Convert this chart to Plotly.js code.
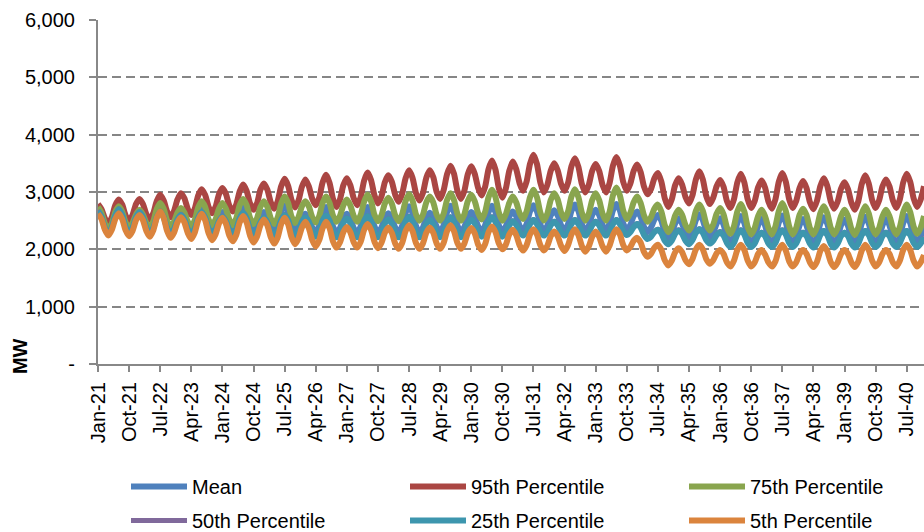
<!DOCTYPE html>
<html>
<head>
<meta charset="utf-8">
<script src="https://cdn.plot.ly/plotly-3.0.1.min.js"></script>
<style>
  html, body { margin: 0; padding: 0; background: #fff; }
  #chart { width: 924px; height: 532px; }
</style>
</head>
<body>
<div id="chart"></div>
<script>
// ---- Data (MW, monthly Jan-21 .. Dec-40) ----
const MONTHS = ['Jan','Feb','Mar','Apr','May','Jun','Jul','Aug','Sep','Oct','Nov','Dec'];
const YEARS = ['21','22','23','24','25','26','27','28','29','30','31','32','33','34','35','36','37','38','39','40'];

const TICK_LABELS = ['Jan-21','Oct-21','Jul-22','Apr-23','Jan-24','Oct-24','Jul-25','Apr-26','Jan-27','Oct-27',
  'Jul-28','Apr-29','Jan-30','Oct-30','Jul-31','Apr-32','Jan-33','Oct-33','Jul-34','Apr-35','Jan-36','Oct-36',
  'Jul-37','Apr-38','Jan-39','Oct-39','Jul-40'];

const Y_TICKS = [0, 1000, 2000, 3000, 4000, 5000, 6000];
const Y_TICK_TEXT = ['-', '1,000', '2,000', '3,000', '4,000', '5,000', '6,000'];

const SERIES_NAMES = ['Mean', '95th Percentile', '75th Percentile', '50th Percentile', '25th Percentile', '5th Percentile'];

const mean = [
  2700,2600,2400,2300,2400,2590,2690,2600,2400,2310,2400,2570,
  2660,2580,2410,2320,2420,2620,2720,2620,2430,2330,2410,2560,
  2640,2560,2410,2330,2430,2640,2740,2640,2440,2340,2420,2570,
  2650,2570,2420,2340,2450,2660,2760,2660,2450,2340,2420,2570,
  2650,2570,2420,2340,2450,2660,2760,2650,2440,2330,2400,2550,
  2620,2540,2380,2300,2410,2630,2740,2630,2400,2290,2370,2540,
  2620,2540,2370,2290,2400,2630,2740,2630,2400,2290,2380,2550,
  2630,2550,2380,2290,2410,2640,2750,2640,2410,2290,2380,2550,
  2640,2560,2390,2300,2420,2650,2760,2650,2420,2300,2390,2560,
  2650,2570,2400,2310,2420,2650,2760,2650,2420,2310,2400,2570,
  2660,2580,2410,2330,2440,2660,2770,2660,2430,2320,2410,2590,
  2680,2590,2420,2330,2440,2670,2780,2670,2440,2320,2410,2600,
  2690,2600,2420,2330,2450,2680,2790,2680,2450,2340,2420,2580,
  2660,2570,2390,2300,2380,2520,2600,2500,2290,2180,2270,2450,
  2540,2450,2280,2190,2300,2510,2610,2510,2300,2190,2280,2450,
  2540,2430,2220,2110,2230,2460,2580,2460,2220,2100,2210,2420,
  2530,2420,2210,2100,2220,2470,2590,2470,2220,2100,2210,2420,
  2530,2420,2210,2100,2220,2450,2560,2450,2220,2100,2210,2420,
  2520,2410,2200,2100,2220,2450,2570,2450,2220,2100,2210,2420,
  2530,2420,2210,2100,2220,2460,2580,2460,2230,2110,2220,2400
];

const p95 = [
  2790,2700,2540,2450,2560,2770,2870,2780,2590,2500,2600,2790,
  2880,2790,2610,2520,2630,2840,2950,2850,2660,2560,2670,2870,
  2980,2890,2700,2600,2710,2940,3050,2950,2740,2630,2740,2960,
  3070,2970,2760,2660,2780,3010,3130,3020,2800,2690,2800,3040,
  3150,3040,2820,2710,2840,3100,3230,3110,2860,2730,2850,3090,
  3220,3100,2880,2770,2900,3170,3300,3160,2880,2740,2870,3120,
  3240,3120,2890,2770,2910,3200,3340,3210,2940,2800,2920,3170,
  3290,3180,2950,2830,2970,3240,3380,3250,2980,2850,2980,3250,
  3380,3260,3000,2880,3030,3310,3460,3320,3020,2880,3020,3310,
  3450,3320,3070,2940,3090,3400,3550,3390,3060,2900,3060,3370,
  3530,3400,3150,3020,3180,3490,3650,3490,3160,2990,3120,3370,
  3500,3380,3140,3020,3160,3450,3590,3440,3140,2990,3120,3370,
  3490,3370,3120,2990,3150,3460,3610,3460,3170,3020,3140,3370,
  3480,3350,3090,2960,3050,3240,3330,3180,2890,2740,2870,3120,
  3240,3130,2910,2800,2940,3220,3360,3220,2930,2790,2900,3100,
  3210,3090,2840,2720,2870,3170,3320,3170,2870,2720,2840,3080,
  3200,3080,2830,2710,2870,3180,3330,3180,2870,2720,2840,3070,
  3190,3070,2820,2700,2840,3100,3240,3110,2840,2710,2830,3060,
  3170,3050,2810,2690,2840,3140,3290,3150,2860,2720,2850,3100,
  3220,3100,2850,2720,2870,3170,3320,3180,2890,2740,2860,3100
];

const p75 = [
  2740,2640,2450,2350,2450,2650,2750,2660,2470,2380,2460,2610,
  2690,2610,2460,2380,2490,2700,2810,2710,2500,2400,2480,2640,
  2720,2640,2480,2400,2510,2730,2840,2740,2520,2420,2520,2710,
  2810,2710,2520,2420,2540,2770,2880,2770,2550,2440,2540,2740,
  2840,2740,2540,2440,2560,2800,2920,2810,2570,2460,2560,2750,
  2840,2750,2560,2470,2580,2810,2920,2810,2590,2480,2580,2770,
  2870,2770,2580,2480,2600,2830,2950,2840,2600,2490,2590,2800,
  2900,2800,2590,2490,2610,2840,2960,2850,2610,2500,2600,2820,
  2920,2820,2600,2500,2620,2860,2980,2860,2620,2500,2610,2840,
  2950,2840,2630,2520,2650,2910,3040,2910,2640,2500,2610,2810,
  2920,2820,2630,2530,2660,2910,3040,2910,2640,2500,2620,2860,
  2980,2870,2640,2530,2660,2920,3050,2910,2640,2500,2620,2860,
  2980,2860,2620,2500,2650,2940,3080,2940,2670,2530,2630,2820,
  2920,2810,2590,2480,2560,2710,2780,2660,2420,2300,2400,2590,
  2690,2600,2420,2330,2440,2670,2780,2670,2440,2330,2430,2620,
  2720,2610,2380,2270,2400,2660,2790,2660,2390,2260,2370,2580,
  2690,2580,2370,2260,2400,2670,2810,2670,2400,2260,2370,2600,
  2710,2600,2370,2260,2380,2630,2750,2630,2380,2260,2370,2580,
  2690,2580,2360,2250,2380,2620,2750,2630,2380,2260,2370,2580,
  2690,2580,2370,2260,2390,2650,2780,2650,2400,2270,2370,2580
];

const p50 = [
  2680,2580,2380,2280,2390,2600,2710,2610,2400,2290,2380,2570,
  2660,2570,2380,2280,2380,2570,2670,2570,2380,2280,2360,2530,
  2610,2530,2360,2270,2370,2560,2660,2560,2370,2270,2350,2500,
  2580,2500,2340,2260,2360,2550,2650,2550,2350,2250,2330,2480,
  2560,2480,2330,2250,2340,2520,2610,2520,2330,2240,2320,2490,
  2570,2490,2320,2230,2320,2510,2600,2510,2310,2220,2300,2470,
  2550,2470,2300,2220,2310,2500,2590,2500,2310,2220,2300,2460,
  2540,2460,2300,2220,2310,2490,2580,2490,2310,2220,2300,2450,
  2530,2450,2300,2220,2310,2480,2570,2480,2310,2220,2300,2450,
  2530,2460,2310,2230,2320,2490,2570,2490,2320,2230,2300,2430,
  2500,2440,2310,2250,2320,2450,2520,2450,2320,2250,2310,2430,
  2490,2430,2310,2250,2320,2450,2520,2450,2320,2250,2310,2430,
  2490,2430,2310,2250,2320,2450,2520,2450,2330,2260,2310,2400,
  2450,2390,2260,2190,2230,2310,2350,2290,2160,2100,2160,2280,
  2340,2280,2160,2100,2170,2300,2360,2300,2170,2110,2160,2260,
  2310,2250,2120,2050,2120,2270,2340,2270,2120,2050,2110,2240,
  2300,2240,2110,2050,2120,2270,2340,2270,2120,2050,2110,2240,
  2300,2240,2110,2040,2110,2260,2330,2260,2110,2040,2110,2240,
  2300,2240,2110,2040,2110,2260,2330,2260,2120,2050,2110,2240,
  2300,2240,2110,2050,2120,2260,2330,2260,2120,2050,2110,2220
];

const p25 = [
  2670,2570,2370,2270,2380,2590,2700,2600,2390,2280,2370,2560,
  2650,2560,2370,2270,2370,2560,2660,2560,2370,2270,2350,2520,
  2600,2520,2350,2260,2360,2550,2650,2550,2360,2260,2340,2490,
  2570,2490,2330,2250,2350,2540,2640,2540,2340,2240,2320,2470,
  2550,2470,2320,2240,2330,2510,2600,2510,2320,2230,2310,2480,
  2560,2480,2310,2220,2310,2500,2590,2500,2300,2210,2290,2460,
  2540,2460,2290,2210,2300,2490,2580,2490,2300,2210,2290,2450,
  2530,2450,2290,2210,2300,2480,2570,2480,2300,2210,2290,2440,
  2520,2440,2290,2210,2300,2470,2560,2470,2300,2210,2290,2440,
  2520,2450,2300,2220,2310,2480,2560,2480,2310,2220,2290,2420,
  2490,2430,2300,2240,2310,2440,2510,2440,2310,2240,2300,2420,
  2480,2420,2300,2240,2310,2440,2510,2440,2310,2240,2300,2420,
  2480,2420,2300,2240,2310,2440,2510,2440,2320,2250,2300,2390,
  2440,2380,2250,2180,2220,2300,2340,2280,2150,2090,2150,2270,
  2330,2270,2150,2090,2160,2290,2350,2290,2160,2100,2150,2250,
  2300,2240,2110,2040,2110,2260,2330,2260,2110,2040,2100,2230,
  2290,2230,2100,2040,2110,2260,2330,2260,2110,2040,2100,2230,
  2290,2230,2100,2030,2100,2250,2320,2250,2100,2030,2100,2230,
  2290,2230,2100,2030,2100,2250,2320,2250,2110,2040,2100,2230,
  2290,2230,2100,2040,2110,2250,2320,2250,2110,2040,2100,2210
];

const p5 = [
  2620,2530,2340,2240,2340,2530,2630,2530,2330,2230,2320,2510,
  2600,2510,2320,2220,2330,2550,2660,2550,2320,2200,2290,2470,
  2560,2470,2280,2180,2290,2510,2620,2510,2280,2160,2260,2450,
  2550,2450,2240,2140,2250,2470,2580,2470,2240,2120,2220,2420,
  2520,2420,2210,2100,2210,2440,2550,2440,2210,2090,2190,2380,
  2480,2370,2160,2050,2160,2370,2480,2370,2140,2030,2120,2300,
  2390,2300,2120,2030,2130,2340,2440,2340,2130,2020,2110,2290,
  2380,2290,2100,2010,2110,2320,2420,2320,2110,2010,2100,2290,
  2380,2290,2100,2010,2110,2320,2420,2320,2110,2010,2100,2280,
  2370,2280,2080,1990,2090,2300,2400,2300,2100,2000,2080,2260,
  2340,2250,2070,1980,2070,2260,2350,2260,2070,1980,2060,2230,
  2310,2230,2060,1970,2070,2260,2350,2250,2060,1960,2050,2220,
  2310,2220,2050,1960,2060,2250,2350,2260,2070,1980,2040,2150,
  2200,2120,1950,1870,1920,2030,2080,1990,1810,1720,1800,1950,
  2020,1950,1810,1740,1830,2000,2080,2000,1830,1750,1810,1930,
  1990,1920,1770,1700,1800,1990,2080,1990,1800,1700,1770,1920,
  1990,1910,1770,1700,1790,1990,2080,1980,1790,1700,1770,1920,
  1990,1920,1770,1690,1780,1970,2060,1970,1780,1690,1770,1920,
  1990,1920,1770,1690,1790,1980,2080,1990,1800,1700,1770,1920,
  1990,1920,1770,1700,1800,1990,2080,1990,1800,1700,1770,1900
];

// ---- Build categories ----
const categories = [];
YEARS.forEach(y => MONTHS.forEach(m => categories.push(m + '-' + y)));

const COLORS = ['#4F81BD', '#AA4643', '#89A54E', '#80699B', '#3D96AE', '#DB843D'];
const VALUES = [mean, p95, p75, p50, p25, p5];
const LEGEND_ID = ['legend', 'legend', 'legend', 'legend2', 'legend2', 'legend2'];
const LEGEND_W = [208, 208, 150, 208, 208, 150];

const FONT = 'Liberation Sans, Arial, sans-serif';

const traces = SERIES_NAMES.map((name, i) => ({
  type: 'scatter',
  mode: 'lines',
  name: name,
  x: categories,
  y: VALUES[i],
  line: { color: COLORS[i], width: (i === 3 ? 5 : 6), shape: 'spline', smoothing: 0.7 },
  legend: LEGEND_ID[i],
  legendwidth: LEGEND_W[i],
  hoverinfo: 'skip'
}));

const legendBase = {
  orientation: 'h',
  x: 0.0339,
  xanchor: 'left',
  yanchor: 'top',
  itemwidth: 56,
  entrywidth: 208,
  entrywidthmode: 'pixels',
  bgcolor: 'rgba(0,0,0,0)',
  borderwidth: 0,
  font: { family: FONT, size: 20, color: '#000' }
};

const layout = {
  width: 924,
  height: 532,
  margin: { l: 98, r: 0, t: 20, b: 168, autoexpand: false },
  paper_bgcolor: '#fff',
  plot_bgcolor: '#fff',
  showlegend: true,
  font: { family: FONT, size: 20, color: '#000' },
  xaxis: {
    type: 'category',
    range: [0, 239],
    showgrid: false,
    zeroline: false,
    showline: true,
    linecolor: '#888',
    linewidth: 2,
    ticks: 'outside',
    ticklen: 6,
    tickwidth: 2,
    tickcolor: '#888',
    tickangle: -90,
    tickmode: 'array',
    tickvals: TICK_LABELS,
    ticktext: TICK_LABELS,
    tickfont: { family: FONT, size: 20, color: '#000' },
    ticklabelstandoff: 2
  },
  yaxis: {
    range: [0, 6000],
    showgrid: true,
    gridcolor: '#868686',
    gridwidth: 2,
    griddash: '9px,5px',
    zeroline: false,
    showline: true,
    linecolor: '#888',
    linewidth: 2,
    ticks: 'outside',
    ticklen: 7,
    tickwidth: 2,
    tickcolor: '#888',
    tickmode: 'array',
    tickvals: Y_TICKS,
    ticktext: Y_TICK_TEXT,
    tickfont: { family: FONT, size: 20, color: '#000' },
    ticklabelstandoff: 10
  },
  legend: Object.assign({}, legendBase, { y: -0.2994 }),
  legend2: Object.assign({}, legendBase, { y: -0.3983 }),
  annotations: [{
    text: 'MW',
    xref: 'paper', yref: 'paper',
    x: -0.0944, y: 0.023,
    xanchor: 'center', yanchor: 'middle',
    textangle: -90,
    showarrow: false,
    font: { family: FONT, size: 20, color: '#000', weight: 'bold' }
  }]
};

Plotly.newPlot('chart', traces, layout, { staticPlot: true, displayModeBar: false });
</script>
</body>
</html>
